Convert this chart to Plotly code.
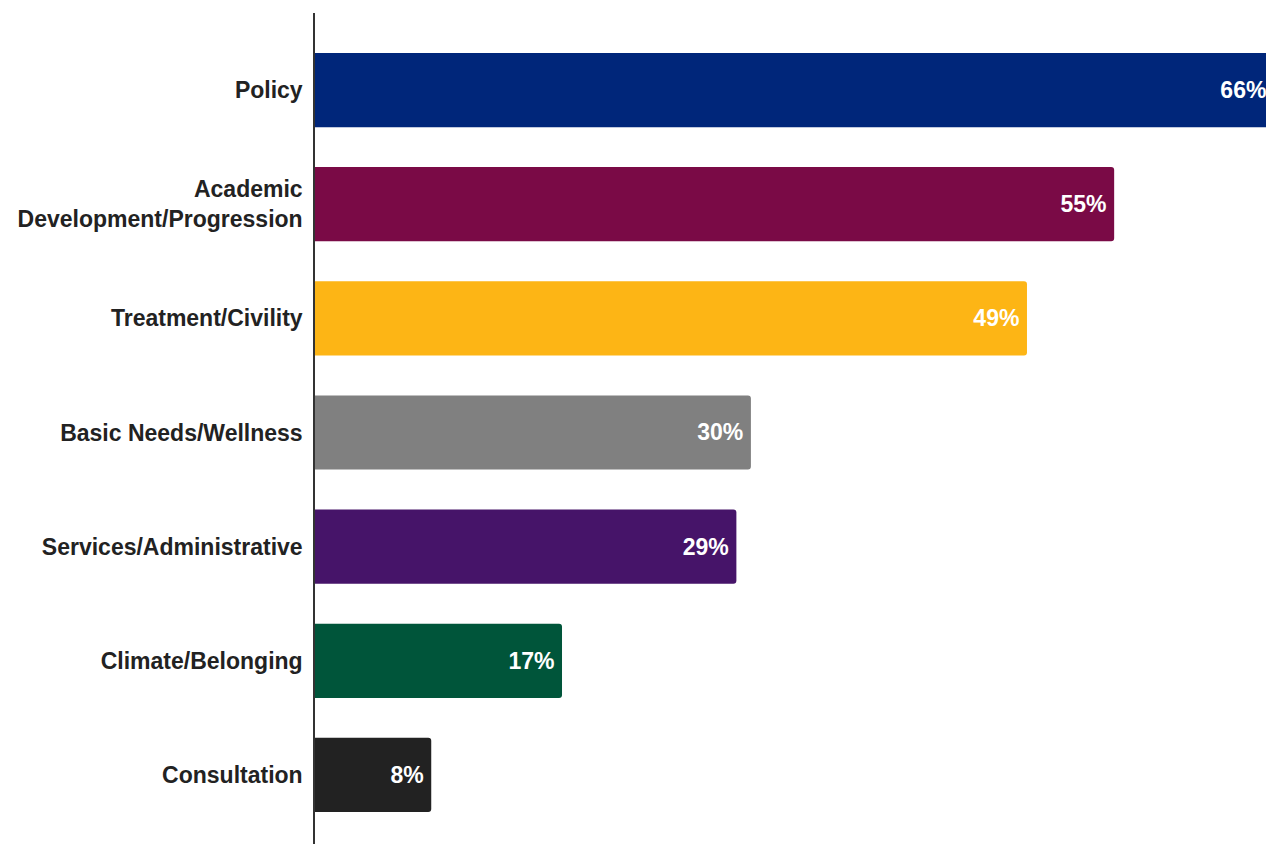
import plotly.graph_objects as go

categories = [
    "Policy",
    "Academic<br>Development/Progression",
    "Treatment/Civility",
    "Basic Needs/Wellness",
    "Services/Administrative",
    "Climate/Belonging",
    "Consultation",
]
shares = [66, 55, 49, 30, 29, 17, 8]
bar_colors = ["#00267A", "#7A0A46", "#FDB515", "#808080", "#461469", "#00553A", "#222222"]

FONT = "Liberation Sans, Arial, sans-serif"

fig = go.Figure(
    go.Bar(
        x=shares,
        y=categories,
        orientation="h",
        width=0.65,
        marker=dict(color=bar_colors, cornerradius=3, line=dict(width=0)),
        # thin space keeps the value a little away from the bar end
        text=[f"{v}%\u2009" for v in shares],
        textposition="inside",
        insidetextanchor="end",
        constraintext="none",
        textfont=dict(family=FONT, size=23, color="white", weight="bold"),
        hoverinfo="skip",
    )
)

fig.update_layout(
    width=1266,
    height=844,
    margin=dict(l=315, r=0, t=13, b=0),
    plot_bgcolor="white",
    paper_bgcolor="white",
    showlegend=False,
    xaxis=dict(range=[0, 65.45], visible=False, showgrid=False, zeroline=False),
    yaxis=dict(
        type="category",
        range=[6.605, -0.675],
        showgrid=False,
        zeroline=False,
        showline=True,
        linecolor="#333333",
        linewidth=1.5,
        ticks="",
        ticklabelstandoff=6,
        tickfont=dict(family=FONT, size=23, color="#222222", weight="bold"),
    ),
)

fig.write_html("out.html")
